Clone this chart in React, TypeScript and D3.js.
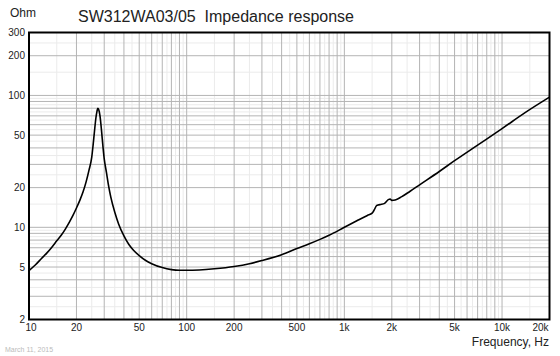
import React from "react";
import * as d3 from "d3";

// impedance curve (Hz, Ohm)
const freqs = [
  10, 11, 12, 13, 14, 15, 16, 17, 18, 19, 20, 21, 22, 23, 24, 25, 25.5, 26, 26.5, 27, 27.3, 27.7,
  28.2, 28.8, 29.5, 30, 31, 32, 33, 35, 37, 40, 43, 46, 50, 55, 60, 70, 80, 90, 100, 120, 150,
  200, 250, 300, 400, 500, 600, 700, 800, 1000, 1200, 1400, 1500, 1550, 1600, 1650, 1700, 1800,
  1900, 1950, 2000, 2100, 2300, 2600, 3000, 4000, 5000, 7000, 10000, 14000, 20000,
];
const ohms = [
  4.7, 5.2, 5.8, 6.4, 7.1, 7.9, 8.7, 9.7, 10.9, 12.3, 14.0, 16.0, 18.5, 22.0, 27.0, 34.0, 42.0,
  53.0, 66.0, 76.0, 80.0, 78.0, 70.0, 55.0, 40.0, 33.0, 26.0, 20.5, 17.0, 13.0, 10.6, 8.6, 7.4,
  6.7, 6.1, 5.6, 5.3, 4.95, 4.78, 4.72, 4.72, 4.75, 4.85, 5.05, 5.3, 5.6, 6.2, 6.9, 7.5, 8.1, 8.7,
  10.0, 11.2, 12.3, 12.8, 13.6, 14.6, 14.8, 14.9, 15.2, 16.2, 16.4, 16.0, 16.1, 17.0, 18.7, 21.0,
  26.5, 32.0, 42.0, 56.0, 74.0, 97.0,
];

const xTickValues = [10, 20, 50, 100, 200, 500, 1000, 2000, 5000, 10000, 20000];
const xTickLabels = ["10", "20", "50", "100", "200", "500", "1k", "2k", "5k", "10k", "20k"];
const yTickValues = [2, 5, 10, 20, 50, 100, 200, 300];
const yTickLabels = ["2", "5", "10", "20", "50", "100", "200", "300"];

const font = "'Liberation Sans', Arial, sans-serif";

const App = () => {
  const ref = React.useRef<SVGSVGElement>(null);

  React.useEffect(() => {
    const svg = d3.select(ref.current);
    svg.selectAll("*").remove();

    const width = 560,
      height = 356,
      margin = { top: 32.5, right: 10.5, bottom: 36.5, left: 29 };

    const x = d3.scaleLog().domain([10, 20000]).range([margin.left, width - margin.right]);
    const y = d3.scaleLog().domain([2, 300]).range([height - margin.bottom, margin.top]);

    svg.append("rect").attr("width", width).attr("height", height).attr("fill", "#fff");

    // grid: 1..9 per decade darker, half steps lighter
    const major: number[] = [];
    const minor: number[] = [];
    for (let e = 0; e <= 4; e++) {
      for (let k = 1; k <= 9; k++) {
        major.push(k * 10 ** e);
        minor.push((k + 0.5) * 10 ** e);
      }
    }
    const inX = (v: number) => v > 10 && v < 20000;
    const inY = (v: number) => v > 2 && v < 300;

    const grid = svg.append("g");
    const drawGrid = (vals: number[], color: string) => {
      grid
        .selectAll(null)
        .data(vals.filter(inX))
        .join("line")
        .attr("x1", (d) => x(d))
        .attr("x2", (d) => x(d))
        .attr("y1", y(2))
        .attr("y2", y(300))
        .attr("stroke", color);
      grid
        .selectAll(null)
        .data(vals.filter(inY))
        .join("line")
        .attr("y1", (d) => y(d))
        .attr("y2", (d) => y(d))
        .attr("x1", x(10))
        .attr("x2", x(20000))
        .attr("stroke", color);
    };
    drawGrid(minor, "#ebebeb");
    drawGrid(major, "#b4b4b4");

    // curve
    const line = d3
      .line<number>()
      .x((_, i) => x(freqs[i]))
      .y((d) => y(d))
      .curve(d3.curveMonotoneX);
    svg
      .append("path")
      .attr("d", line(ohms))
      .attr("fill", "none")
      .attr("stroke", "#000")
      .attr("stroke-width", 1.6)
      .attr("stroke-linejoin", "round");

    // frame
    svg
      .append("rect")
      .attr("x", x(10))
      .attr("y", y(300))
      .attr("width", x(20000) - x(10))
      .attr("height", y(2) - y(300))
      .attr("fill", "none")
      .attr("stroke", "#000")
      .attr("stroke-width", 2);

    // y tick labels
    svg
      .append("g")
      .selectAll("text")
      .data(yTickValues)
      .join("text")
      .attr("x", 25)
      .attr("y", (d) => y(d))
      .attr("dy", "0.35em")
      .attr("text-anchor", "end")
      .attr("font-family", font)
      .attr("font-size", 10)
      .attr("fill", "#222")
      .text((_, i) => yTickLabels[i]);

    // x tick labels
    const last = xTickValues.length - 1;
    svg
      .append("g")
      .selectAll("text")
      .data(xTickValues)
      .join("text")
      .attr("x", (d, i) => (i === 0 ? x(d) + 2 : i === last ? x(d) - 1 : x(d)))
      .attr("y", 331)
      .attr("text-anchor", (_, i) => (i === last ? "end" : "middle"))
      .attr("font-family", font)
      .attr("font-size", 10)
      .attr("fill", "#222")
      .text((_, i) => xTickLabels[i]);

    // titles
    svg
      .append("text")
      .attr("x", 10)
      .attr("y", 17)
      .attr("font-family", font)
      .attr("font-size", 12)
      .attr("fill", "#222")
      .text("Ohm");
    svg
      .append("text")
      .attr("x", 78)
      .attr("y", 22)
      .attr("font-family", font)
      .attr("font-size", 16)
      .attr("fill", "#222")
      .attr("xml:space", "preserve")
      .style("white-space", "pre")
      .text("SW312WA03/05  Impedance response");
    svg
      .append("text")
      .attr("x", 549)
      .attr("y", 346)
      .attr("text-anchor", "end")
      .attr("font-family", font)
      .attr("font-size", 12)
      .attr("fill", "#222")
      .text("Frequency, Hz");
    svg
      .append("text")
      .attr("x", 5)
      .attr("y", 352)
      .attr("font-family", font)
      .attr("font-size", 7)
      .attr("fill", "#bbb")
      .text("March 11, 2015");
  }, []);

  return (
    <svg
      ref={ref}
      width={560}
      height={356}
      style={{ position: "absolute", left: 0, top: 0 }}
    ></svg>
  );
};

export default App;
